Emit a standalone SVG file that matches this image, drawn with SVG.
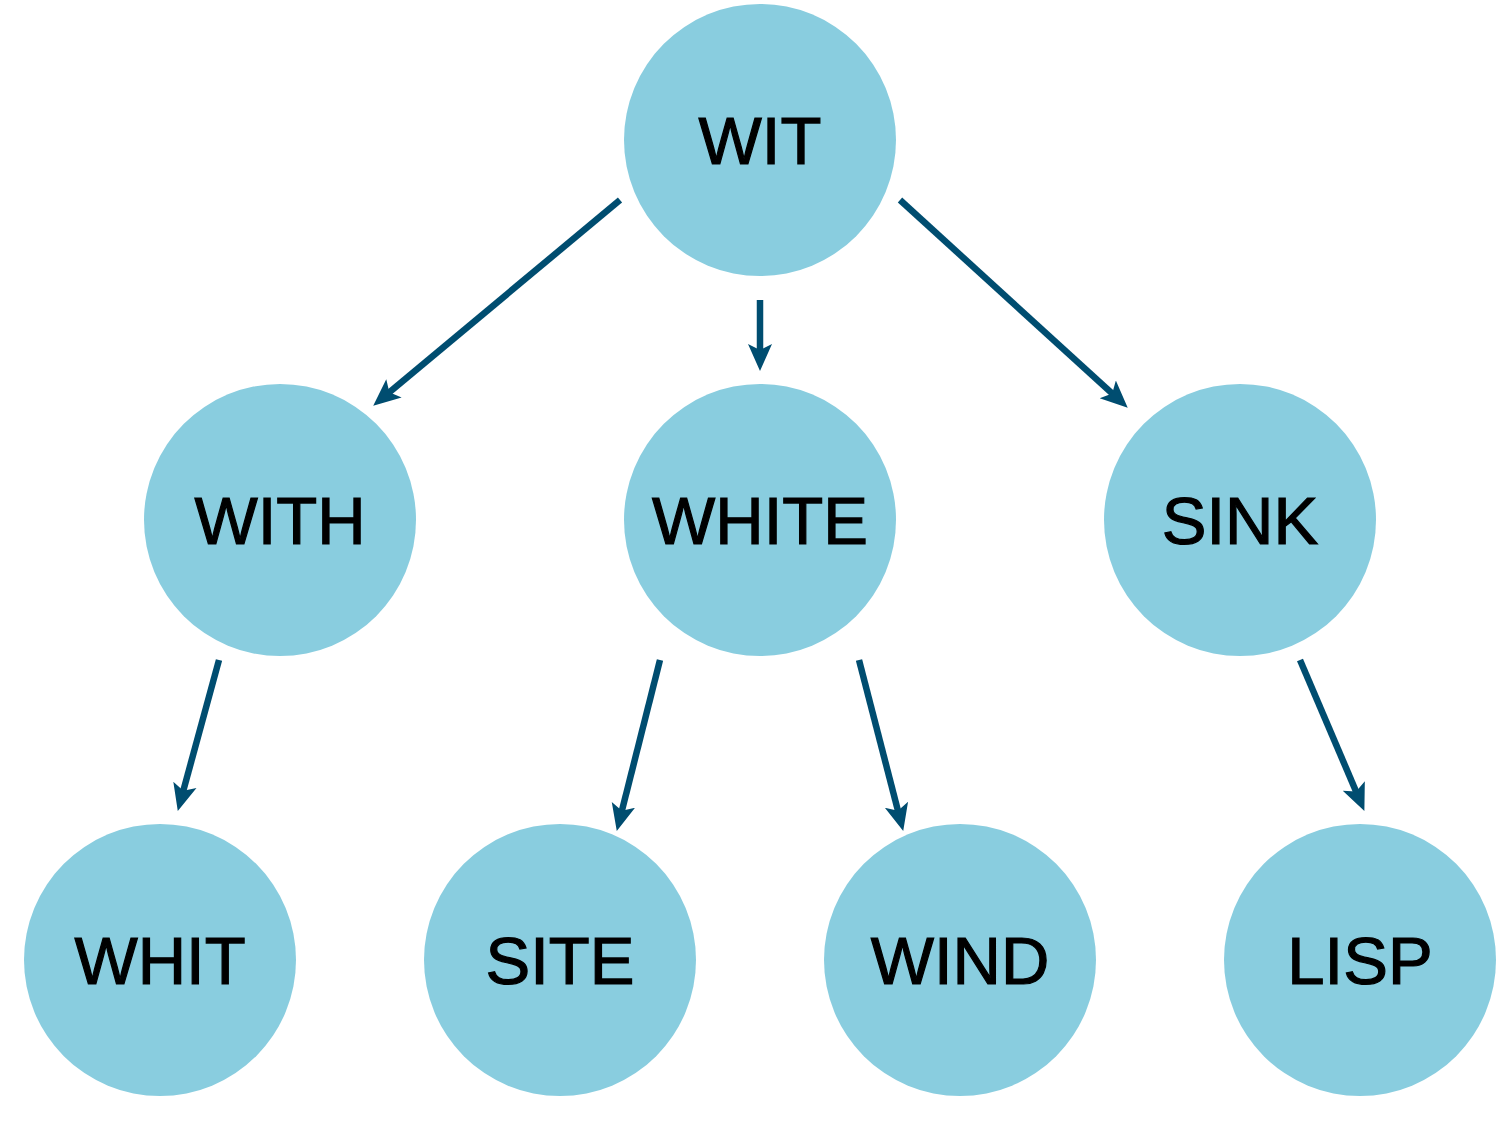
<svg xmlns="http://www.w3.org/2000/svg" width="1512" height="1134" viewBox="0 0 1512 1134">
<style>
.n{fill:#89cddf;}
.t{font-family:"Liberation Sans",Arial,sans-serif;font-size:67px;fill:#000;stroke:#000;stroke-width:1.2;text-anchor:middle;}
.e{stroke:#004d70;stroke-width:6.5;fill:none;}
</style>
<defs>
<marker id="a" markerUnits="userSpaceOnUse" markerWidth="30" markerHeight="30" viewBox="0 0 30 30" refX="11" refY="15" orient="auto">
<path d="M27,15 L0,3 L6,15 L0,27 Z" fill="#004d70"/>
</marker>
</defs>
<rect width="1512" height="1134" fill="#fff"/>
<g id="connectors">
<line class="e" x1="620" y1="200" x2="385.5" y2="395.4" marker-end="url(#a)"/>
<line class="e" x1="760" y1="300" x2="760" y2="355" marker-end="url(#a)"/>
<line class="e" x1="900" y1="200" x2="1115.9" y2="396.9" marker-end="url(#a)"/>
<line class="e" x1="219" y1="660" x2="182" y2="795.5" marker-end="url(#a)"/>
<line class="e" x1="660" y1="660" x2="620.7" y2="815.5" marker-end="url(#a)"/>
<line class="e" x1="859" y1="660" x2="899.2" y2="815.5" marker-end="url(#a)"/>
<line class="e" x1="1300" y1="660" x2="1358.1" y2="796.2" marker-end="url(#a)"/>
</g>
<g id="WIT"><circle class="n" cx="760" cy="140" r="136"/><text class="t" x="760" y="164">WIT</text></g>
<g id="WITH"><circle class="n" cx="280" cy="520" r="136"/><text class="t" x="280" y="544">WITH</text></g>
<g id="WHITE"><circle class="n" cx="760" cy="520" r="136"/><text class="t" x="760" y="544">WHITE</text></g>
<g id="SINK"><circle class="n" cx="1240" cy="520" r="136"/><text class="t" x="1240" y="544">SINK</text></g>
<g id="WHIT"><circle class="n" cx="160" cy="960" r="136"/><text class="t" x="160" y="984">WHIT</text></g>
<g id="SITE"><circle class="n" cx="560" cy="960" r="136"/><text class="t" x="560" y="984">SITE</text></g>
<g id="WIND"><circle class="n" cx="960" cy="960" r="136"/><text class="t" x="960" y="984">WIND</text></g>
<g id="LISP"><circle class="n" cx="1360" cy="960" r="136"/><text class="t" x="1360" y="984">LISP</text></g>
</svg>
